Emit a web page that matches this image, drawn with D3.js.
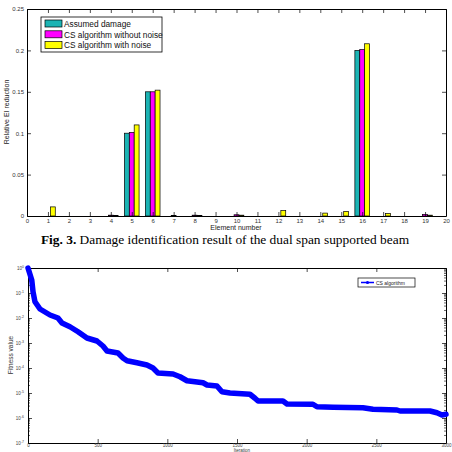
<!DOCTYPE html>
<html><head><meta charset="utf-8">
<script src="https://cdn.jsdelivr.net/npm/d3@7"></script>
<style>
html,body{margin:0;padding:0;background:#fff;}
svg{display:block;}
text{font-family:Arial, "Liberation Sans", sans-serif;}
</style></head>
<body>
<svg id="c" width="452" height="452"></svg>
<script>
// ---------- Data: top chart ----------
const elements = [1,2,3,4,5,6,7,8,9,10,11,12,13,14,15,16,17,18,19,20];
const assumedDamage   = [0,0,0,0,0.100,0.150,0,0,0,0,0,0,0,0,0,0.200,0,0,0,0];
const csWithoutNoise  = [0,0,0,0.001,0.101,0.150,0.0005,0.001,0,0.0015,0,0,0,0,0,0.201,0,0,0.002,0];
const csWithNoise     = [0.011,0,0,0.0005,0.110,0.152,0,0.0005,0,0.001,0,0.0065,0,0.0035,0.0055,0.208,0.003,0,0.001,0];
const seriesNames = ["Assumed damage","CS algorithm without noise","CS algorithm with noise"];
const xTicksTop = [0,1,2,3,4,5,6,7,8,9,10,11,12,13,14,15,16,17,18,19,20];
const yTicksTop = [0,0.05,0.1,0.15,0.2,0.25];
const yTickLabelsTop = ["0","0.05","0.1","0.15","0.2","0.25"];

// ---------- Data: bottom chart ----------
const iterations   = [0,27,36,50,86,158,215,244,301,359,423,495,538,567,646,682,711,782,854,897,933,1041,1091,1141,1256,1285,1356,1392,1450,1593,1629,1651,1830,1859,2045,2074,2189,2404,2476,2648,2670,2885,2935,2971,3000];
const fitnessLog10 = [0,-0.48,-0.95,-1.35,-1.64,-1.88,-2.0,-2.2,-2.35,-2.55,-2.8,-2.92,-3.12,-3.32,-3.4,-3.6,-3.71,-3.79,-3.88,-4.0,-4.2,-4.24,-4.35,-4.51,-4.59,-4.68,-4.72,-4.95,-5.0,-5.05,-5.21,-5.32,-5.32,-5.44,-5.45,-5.55,-5.57,-5.59,-5.65,-5.68,-5.72,-5.72,-5.79,-5.88,-5.85];
const xTicksBottom = [0,500,1000,1500,2000,2500,3000];
const yExpBottom = [0,-1,-2,-3,-4,-5,-6,-7];

const svg = d3.select("#c");
const colors = ["#1cb4b4","#ff00ff","#ffff00"];

// ================= TOP CHART =================
const T = {l:27, r:446, t:9, b:216};
const x1 = d3.scaleLinear().domain([0,20]).range([T.l,T.r]);
const y1 = d3.scaleLinear().domain([0,0.25]).range([T.b,T.t]);
const g1 = svg.append("g");

const bw = x1(0.233)-x1(0);
const seriesData = [assumedDamage, csWithoutNoise, csWithNoise];
seriesData.forEach((vals,si)=>{
  g1.selectAll(null).data(elements.map((e,i)=>({e,v:vals[i]})).filter(d=>d.v>0))
    .enter().append("rect")
    .attr("x",d=>x1(d.e)+(si-1.5)*bw)
    .attr("width",bw)
    .attr("y",d=>y1(d.v))
    .attr("height",d=>y1(0)-y1(d.v))
    .attr("fill",colors[si]).attr("stroke","#000").attr("stroke-width",0.7);
});

const axB1 = g1.append("g").attr("transform",`translate(0,${T.b})`)
  .call(d3.axisBottom(x1).tickValues(xTicksTop).tickSizeInner(-4).tickSizeOuter(0).tickPadding(3));
const axT1 = g1.append("g").attr("transform",`translate(0,${T.t})`)
  .call(d3.axisTop(x1).tickValues(xTicksTop).tickSizeInner(-4).tickSizeOuter(0).tickFormat(""));
const axL1 = g1.append("g").attr("transform",`translate(${T.l},0)`)
  .call(d3.axisLeft(y1).tickValues(yTicksTop).tickSizeInner(-4).tickSizeOuter(0).tickPadding(3)
    .tickFormat((d,i)=>yTickLabelsTop[i]));
const axR1 = g1.append("g").attr("transform",`translate(${T.r},0)`)
  .call(d3.axisRight(y1).tickValues(yTicksTop).tickSizeInner(-4).tickSizeOuter(0).tickFormat(""));
[axB1,axT1,axL1,axR1].forEach(a=>{
  a.select(".domain").attr("stroke","#000").attr("stroke-width",1);
  a.selectAll(".tick line").attr("stroke","#000").attr("stroke-width",0.7);
  a.selectAll("text").attr("font-size",6).attr("fill","#333");
});

g1.append("text").attr("x",236).attr("y",230).attr("text-anchor","middle")
  .attr("font-size",7).attr("fill","#222").text("Element number");
g1.append("text").attr("transform","translate(9,112) rotate(-90)").attr("text-anchor","middle")
  .attr("font-size",7).attr("fill","#222").text("Relative EI reduction");

const lg1 = g1.append("g");
lg1.append("rect").attr("x",41).attr("y",17).attr("width",121).attr("height",35)
  .attr("fill","#fff").attr("stroke","#000").attr("stroke-width",0.8);
seriesNames.forEach((n,i)=>{
  lg1.append("rect").attr("x",45).attr("y",20+i*10.8).attr("width",17).attr("height",7)
    .attr("fill",colors[i]).attr("stroke","#000").attr("stroke-width",0.7);
  lg1.append("text").attr("x",64).attr("y",26.8+i*10.8).attr("font-size",8.3).attr("fill","#111").text(n);
});

// caption
const cap = svg.append("text").attr("x",225).attr("y",244).attr("text-anchor","middle")
  .attr("font-size",13.4).attr("fill","#000").style("font-family","'Liberation Serif','Times New Roman',serif");
cap.append("tspan").attr("font-weight","bold").text("Fig. 3.");
cap.append("tspan").text(" Damage identification result of the dual span supported beam");

// ================= BOTTOM CHART =================
const B = {l:28, r:446, t:268, b:443};
const x2 = d3.scaleLinear().domain([0,3000]).range([B.l,B.r]);
const y2 = d3.scaleLog().domain([1e-7,1e0]).range([B.b,B.t]);
const g2 = svg.append("g");

const minor = [];
yExpBottom.slice(1).forEach(e=>{ for(let k=2;k<=9;k++) minor.push(k*Math.pow(10,e)); });
g2.selectAll(null).data(minor).enter().append("line")
  .attr("x1",B.l).attr("x2",B.l+2).attr("y1",d=>y2(d)).attr("y2",d=>y2(d)).attr("stroke","#000").attr("stroke-width",0.6);
g2.selectAll(null).data(minor).enter().append("line")
  .attr("x1",B.r).attr("x2",B.r-2).attr("y1",d=>y2(d)).attr("y2",d=>y2(d)).attr("stroke","#000").attr("stroke-width",0.6);

const yMajor = yExpBottom.map(e=>Math.pow(10,e));
const axB2 = g2.append("g").attr("transform",`translate(0,${B.b})`)
  .call(d3.axisBottom(x2).tickValues(xTicksBottom).tickSizeInner(-4).tickSizeOuter(0).tickPadding(1).tickFormat(d3.format("d")));
const axT2 = g2.append("g").attr("transform",`translate(0,${B.t})`)
  .call(d3.axisTop(x2).tickValues(xTicksBottom).tickSizeInner(-4).tickSizeOuter(0).tickFormat(""));
const axL2 = g2.append("g").attr("transform",`translate(${B.l},0)`)
  .call(d3.axisLeft(y2).tickValues(yMajor).tickSizeInner(-4).tickSizeOuter(0).tickFormat(""));
const axR2 = g2.append("g").attr("transform",`translate(${B.r},0)`)
  .call(d3.axisRight(y2).tickValues(yMajor).tickSizeInner(-4).tickSizeOuter(0).tickFormat(""));
[axB2,axT2,axL2,axR2].forEach(a=>{
  a.select(".domain").attr("stroke","#000").attr("stroke-width",1);
  a.selectAll(".tick line").attr("stroke","#000").attr("stroke-width",0.7);
  a.selectAll("text").attr("font-size",4.5).attr("fill","#444");
});
const yl = g2.selectAll(null).data(yExpBottom).enter().append("text")
  .attr("x",24).attr("y",e=>y2(Math.pow(10,e))+1.5).attr("text-anchor","end")
  .attr("font-size",4.5).attr("fill","#444");
yl.append("tspan").text("10");
yl.append("tspan").attr("dy",-2).attr("font-size",3.5).text(e=>e);

const pts = iterations.map((it,i)=>({x:it,y:Math.pow(10,fitnessLog10[i])}));
const line = d3.line().x(d=>x2(d.x)).y(d=>y2(d.y));
g2.append("path").datum(pts).attr("d",line).attr("fill","none")
  .attr("stroke","#0000ff").attr("stroke-width",5.5).attr("stroke-linejoin","round").attr("stroke-linecap","round");

g2.append("text").attr("transform","translate(13,355) rotate(-90)").attr("text-anchor","middle")
  .attr("font-size",6.5).attr("fill","#333").text("Fitness value");
g2.append("text").attr("x",242).attr("y",452).attr("text-anchor","middle")
  .attr("font-size",4.5).attr("fill","#333").text("Iteration");

const lg2 = g2.append("g");
lg2.append("rect").attr("x",358).attr("y",278).attr("width",57).attr("height",9)
  .attr("fill","#fff").attr("stroke","#000").attr("stroke-width",0.7);
lg2.append("line").attr("x1",361).attr("x2",374).attr("y1",282.5).attr("y2",282.5)
  .attr("stroke","#0000ff").attr("stroke-width",1.5);
lg2.append("circle").attr("cx",367.5).attr("cy",282.5).attr("r",1.6).attr("fill","#0000ff");
lg2.append("text").attr("x",376).attr("y",284.5).attr("font-size",5).attr("fill","#222").text("CS algorithm");
</script>
</body></html>
